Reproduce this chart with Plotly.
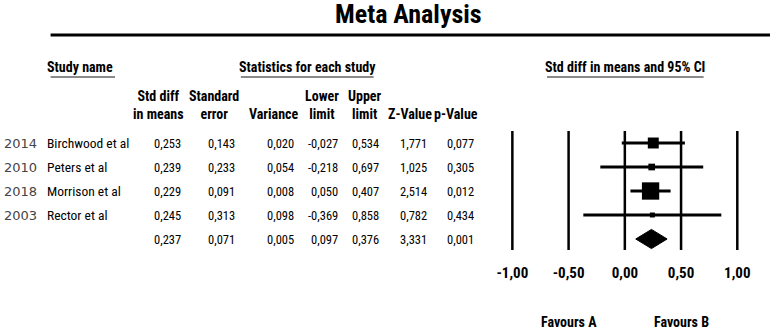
import plotly.graph_objects as go
import math

# ---------------- data ----------------
years = ["2014", "2010", "2018", "2003"]
studies = ["Birchwood et al", "Peters et al", "Morrison et al", "Rector et al"]
std_diff = [0.253, 0.239, 0.229, 0.245]
std_err = [0.143, 0.233, 0.091, 0.313]
variance = [0.020, 0.054, 0.008, 0.098]
lower = [-0.027, -0.218, 0.050, -0.369]
upper = [0.534, 0.697, 0.407, 0.858]
z_value = [1.771, 1.025, 2.514, 0.782]
p_value = [0.077, 0.305, 0.012, 0.434]

summary = {"std_diff": 0.237, "std_err": 0.071, "variance": 0.005,
           "lower": 0.097, "upper": 0.376, "z": 3.331, "p": 0.001}

axis_ticks = [-1.0, -0.5, 0.0, 0.5, 1.0]
favours = [("Favours A", -0.5), ("Favours B", 0.5)]

col_headers = ["Std diff<br>in means", "Standard<br>error", "Variance",
               "Lower<br>limit", "Upper<br>limit", "Z-Value", "p-Value"]

# ---------------- layout constants ----------------
W, H = 772, 330
NARROW = ("Liberation Sans Narrow, Arial Narrow, Noto Sans Condensed, "
          "Roboto Condensed, DejaVu Sans Condensed, Liberation Sans, Arial, sans-serif")
YEARFONT = "DejaVu Sans, Verdana, sans-serif"
LEFT_FIX = 6  # compensation for left-anchored annotation offset


def px(x):
    return x / W


def py(y):
    return 1 - y / H


def fmt(v, nd=3):
    return f"{v:.{nd}f}".replace(".", ",")


n = len(studies)
rows = list(range(n))
sum_row = n

# column right edges (px) and header centres (px)
col_right = [180, 234, 294, 338, 379, 428, 475]
hdr_center = [155, 211, 271, 320, 363, 409, 455]

fig = go.Figure()

# CI lines + squares
weights = [1 / v for v in variance]
sizes = [1.55 * math.sqrt(w) for w in weights]
fig.add_trace(go.Scatter(
    x=std_diff, y=rows, mode="markers", opacity=1,
    marker=dict(symbol="square", size=sizes, color="black", opacity=1, line=dict(width=0)),
    error_x=dict(type="data", symmetric=False,
                 array=[u - m for u, m in zip(upper, std_diff)],
                 arrayminus=[m - l for l, m in zip(lower, std_diff)],
                 color="black", thickness=3, width=0),
    showlegend=False, hoverinfo="skip", cliponaxis=False))

# summary diamond
h = 0.4
fig.add_trace(go.Scatter(
    x=[summary["lower"], summary["std_diff"], summary["upper"], summary["std_diff"], summary["lower"]],
    y=[sum_row, sum_row - h, sum_row, sum_row + h, sum_row],
    mode="lines", fill="toself", fillcolor="black",
    line=dict(color="black", width=1), showlegend=False, hoverinfo="skip"))

shapes = []
# vertical reference lines
for t in axis_ticks:
    shapes.append(dict(type="line", xref="x", yref="y", x0=t, x1=t,
                       y0=-0.5, y1=sum_row + 0.46,
                       line=dict(color="black", width=2.5), layer="below"))
# title rule
shapes.append(dict(type="line", xref="paper", yref="paper",
                   x0=px(46), x1=1.0, y0=py(35), y1=py(35),
                   line=dict(color="black", width=3)))
# section underlines
for x0, x1 in [(46, 111), (238, 372), (547, 705)]:
    shapes.append(dict(type="line", xref="paper", yref="paper",
                       x0=px(x0), x1=px(x1), y0=py(77), y1=py(77),
                       line=dict(color="#8a8a8a", width=2)))

ann = []
ann.append(dict(text="<b>Meta Analysis</b>", x=px(407), y=py(14), xref="paper", yref="paper",
                showarrow=False, xanchor="center", yanchor="middle",
                font=dict(family=NARROW, size=26, color="black")))
for txt, xc, anchor in [("Study name", 46 - LEFT_FIX, "left"),
                        ("Statistics for each study", 305, "center"),
                        ("Std diff in means and 95% CI", 626, "center")]:
    ann.append(dict(text=f"<b>{txt}</b>", x=px(xc), y=py(67), xref="paper", yref="paper",
                    showarrow=False, xanchor=anchor, align=anchor, yanchor="middle",
                    font=dict(family=NARROW, size=14, color="black")))
for txt, xc in zip(col_headers, hdr_center):
    ann.append(dict(text=f"<b>{txt}</b>", x=px(xc), y=py(124), xref="paper", yref="paper",
                    showarrow=False, xanchor="center", yanchor="bottom",
                    font=dict(family=NARROW, size=14, color="black")))

# study rows
for i in rows:
    ann.append(dict(text=years[i], x=px(3 - LEFT_FIX), y=i, xref="paper", yref="y",
                    showarrow=False, xanchor="left", align="left", yanchor="middle",
                    font=dict(family=YEARFONT, size=13, color="#444444")))
    ann.append(dict(text=studies[i], x=px(46 - LEFT_FIX), y=i, xref="paper", yref="y",
                    showarrow=False, xanchor="left", align="left", yanchor="middle",
                    font=dict(family=NARROW, size=13.5, color="black")))
    vals = [std_diff[i], std_err[i], variance[i], lower[i], upper[i], z_value[i], p_value[i]]
    for v, xr in zip(vals, col_right):
        ann.append(dict(text=fmt(v), x=px(xr), y=i, xref="paper", yref="y",
                        showarrow=False, xanchor="right", align="right", yanchor="middle",
                        font=dict(family=NARROW, size=12.5, color="black")))
# summary row
svals = [summary[k] for k in ["std_diff", "std_err", "variance", "lower", "upper", "z", "p"]]
for v, xr in zip(svals, col_right):
    ann.append(dict(text=fmt(v), x=px(xr), y=sum_row, xref="paper", yref="y",
                    showarrow=False, xanchor="right", align="right", yanchor="middle",
                    font=dict(family=NARROW, size=12.5, color="black")))

for txt, xv in favours:
    ann.append(dict(text=f"<b>{txt}</b>", x=xv, y=py(322), xref="x", yref="paper",
                    showarrow=False, xanchor="center", yanchor="middle",
                    font=dict(family=NARROW, size=14, color="black")))

x_lo, x_hi = -1.1, 1.1
ppu = (739 - 512) / 2.0
zero_px = 625.5
fig.update_layout(
    width=W, height=H, margin=dict(l=0, r=0, t=0, b=0),
    paper_bgcolor="white", plot_bgcolor="white",
    xaxis=dict(range=[x_lo, x_hi],
               domain=[px(zero_px + x_lo * ppu), px(zero_px + x_hi * ppu)],
               anchor="free", position=py(262),
               tickvals=axis_ticks, ticktext=[fmt(t, 2) for t in axis_ticks],
               tickfont=dict(family=NARROW, size=15, color="black", weight="bold"),
               showgrid=False, zeroline=False, showline=False, ticks=""),
    yaxis=dict(range=[(H - 143) / 24.0, -143 / 24.0], domain=[0, 1],
               visible=False, showgrid=False, zeroline=False),
    shapes=shapes, annotations=ann,
)

fig.write_html("out.html", config={"displayModeBar": False},
               post_script="document.body.style.margin='0';")
